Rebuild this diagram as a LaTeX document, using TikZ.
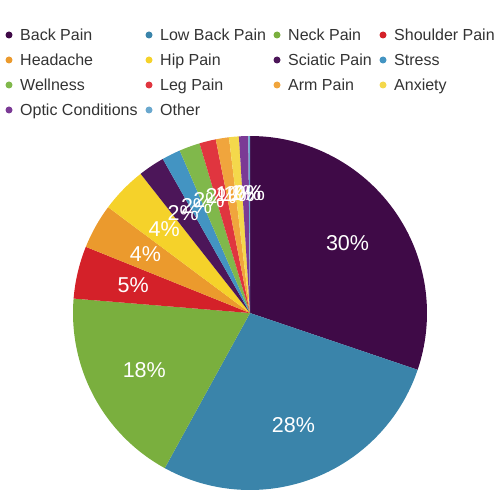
\documentclass[tikz,border=0pt]{standalone}
\usepackage{fontspec}
\setmainfont{Liberation Sans}
\usetikzlibrary{calc}
\definecolor{cBack}{HTML}{3F0A47}
\definecolor{cLow}{HTML}{3A84AA}
\definecolor{cNeck}{HTML}{7AAF3E}
\definecolor{cShoulder}{HTML}{D42129}
\definecolor{cHead}{HTML}{EB9A2D}
\definecolor{cHip}{HTML}{F5D22A}
\definecolor{cSciatic}{HTML}{4C1659}
\definecolor{cStress}{HTML}{4394C2}
\definecolor{cWell}{HTML}{80B84B}
\definecolor{cLeg}{HTML}{E0353F}
\definecolor{cArm}{HTML}{F0A53D}
\definecolor{cAnx}{HTML}{F4D84B}
\definecolor{cOptic}{HTML}{7B3A95}
\definecolor{cOther}{HTML}{6AA8CE}
\definecolor{legtxt}{HTML}{333333}
\tikzset{
  legdot/.style={circle,inner sep=0pt,minimum size=7pt},
  legtext/.style={anchor=base west,inner sep=0pt,text=legtxt,font=\fontsize{16}{19}\selectfont},
  pielabel/.style={anchor=base,inner sep=0pt,yshift=-7.5pt,text=white,font=\fontsize{21.5}{25}\selectfont}
}
\begin{document}
\begin{tikzpicture}[x=1pt,y=1pt]
\useasboundingbox (0,0) rectangle (500,-500);
\coordinate (c) at (250,-313);
% slices: start% / end% / colour / label
\foreach \a/\b/\col/\t [count=\i] in {
  0/30.2/cBack/30,
  30.2/58.0/cLow/28,
  58.0/76.3/cNeck/18,
  76.3/81.1/cShoulder/5,
  81.1/85.2/cHead/4,
  85.2/89.4/cHip/4,
  89.4/91.8/cSciatic/2,
  91.8/93.5/cStress/2,
  93.5/95.4/cWell/2,
  95.4/96.9/cLeg/2,
  96.9/98.1/cArm/1,
  98.1/99.0/cAnx/1,
  99.0/99.85/cOptic/1,
  99.85/100/cOther/0}{
  \fill[\col] (c) -- ++({90-\a*3.6}:177) arc[start angle={90-\a*3.6}, end angle={90-\b*3.6}, radius=177] -- cycle;
}
\foreach \a/\b/\t [count=\i] in {
  0/30.2/30, 30.2/58.0/28, 58.0/76.3/18, 76.3/81.1/5, 81.1/85.2/4, 85.2/89.4/4,
  89.4/91.8/2, 91.8/93.5/2, 93.5/95.4/2, 95.4/96.9/2, 96.9/98.1/1, 98.1/99.0/1,
  99.0/99.85/1, 99.85/100/0}{
  \path (c) ++ ({90-(\a+\b)*1.8}:120) node[pielabel] (lab\i) {\t\%};
}
% legend
\foreach \x/\y/\col/\t [count=\i] in {
  9/35/cBack/Back Pain, 149/35/cLow/Low Back Pain, 277/35/cNeck/Neck Pain, 383/35/cShoulder/Shoulder Pain,
  9/60/cHead/Headache, 149/60/cHip/Hip Pain, 277/60/cSciatic/Sciatic Pain, 383/60/cStress/Stress,
  9/85/cWell/Wellness, 149/85/cLeg/Leg Pain, 277/85/cArm/Arm Pain, 383/85/cAnx/Anxiety,
  9/110/cOptic/Optic Conditions, 149/110/cOther/Other}{
  \node[legdot,fill=\col] (dot\i) at (\x,-\y) {};
  \node[legtext] (leg\i) at (\x+11,-\y-5.7) {\t};
}
\end{tikzpicture}
\end{document}
